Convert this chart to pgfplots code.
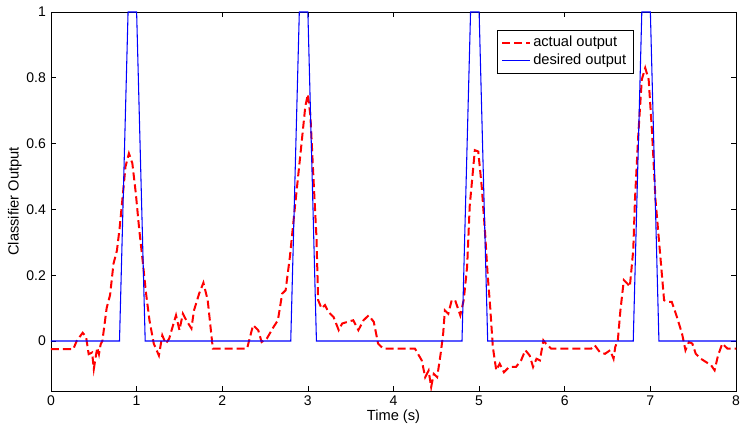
\documentclass[border=0pt]{standalone}
\usepackage{fontspec}
\setmainfont{Liberation Sans}
\usepackage{pgfplots}
\pgfplotsset{compat=1.18}

\begin{document}
\fontsize{11pt}{13pt}\selectfont
\begin{tikzpicture}
% fixed page frame
\path[use as bounding box] (0,0) rectangle (559.5pt,321pt);
\begin{axis}[
  at={(38.25pt,27.75pt)}, anchor=south west,
  scale only axis, width=513.75pt, height=284.25pt,
  xmin=0, xmax=8, ymin=-0.152, ymax=1,
  xtick={0,1,...,8},
  ytick={0,0.2,0.4,0.6,0.8,1},
  yticklabels={0,0.2,0.4,0.6,0.8,1},
  tick align=inside,
  major tick length=4pt,
  every tick/.style={black, line width=0.5pt},
  axis line style={black, line width=0.5pt},
  /pgf/number format/assume math mode=true,
  ticklabel style={font=\fontsize{10.5pt}{12pt}\selectfont},
  label style={font=\fontsize{11pt}{13pt}\selectfont},
  xlabel={Time (s)},
  ylabel={Classifier Output},
  xlabel style={yshift=5pt},
  ylabel style={yshift=-4pt},
  legend cell align=left,
  legend style={at={(0.651,0.953)}, anchor=north west, draw=black,
    line width=0.5pt, font=\fontsize{11pt}{13pt}\selectfont,
    inner xsep=3pt, inner ysep=2.5pt, row sep=0pt},
  legend image code/.code={\draw[#1] (0cm,0cm) -- (0.72cm,0cm);},
]
\addplot[red, line width=1.5pt, dash pattern=on 6pt off 3pt] coordinates {
(0,-0.025) (0.26,-0.025) (0.30,0.0) (0.37,0.025) (0.41,0.012) (0.44,-0.04)
(0.48,-0.035) (0.50,-0.085) (0.54,-0.02) (0.56,-0.04) (0.58,-0.01) (0.60,0.0)
(0.65,0.10) (0.69,0.14) (0.73,0.235) (0.77,0.275) (0.80,0.34) (0.83,0.42)
(0.87,0.53) (0.91,0.57) (0.95,0.54) (0.99,0.45) (1.03,0.34) (1.07,0.245)
(1.11,0.145) (1.15,0.063) (1.20,-0.008) (1.26,-0.044) (1.30,0.017) (1.34,-0.008)
(1.38,0.007) (1.42,0.043) (1.46,0.078) (1.50,0.033) (1.54,0.083) (1.58,0.063)
(1.64,0.038) (1.67,0.093) (1.73,0.144) (1.78,0.177) (1.83,0.124) (1.89,-0.023)
(2.29,-0.023) (2.36,0.048) (2.42,0.033) (2.46,-0.003) (2.52,0.007) (2.60,0.043)
(2.65,0.063) (2.70,0.144) (2.74,0.154) (2.79,0.256) (2.85,0.41) (2.91,0.56)
(2.97,0.713) (3.00,0.75) (3.03,0.683) (3.07,0.47) (3.10,0.317) (3.12,0.124)
(3.16,0.099) (3.20,0.109) (3.24,0.088) (3.30,0.073) (3.36,0.033) (3.40,0.053)
(3.46,0.058) (3.53,0.063) (3.59,0.033) (3.65,0.063) (3.71,0.078) (3.77,0.058)
(3.82,-0.008) (3.88,-0.023) (4.25,-0.023) (4.33,-0.059) (4.37,-0.11) (4.41,-0.09)
(4.44,-0.14) (4.47,-0.10) (4.51,-0.11) (4.55,-0.04) (4.58,0.022) (4.60,0.093)
(4.64,0.083) (4.68,0.124) (4.72,0.124) (4.78,0.078) (4.82,0.124) (4.86,0.226)
(4.89,0.41) (4.95,0.58) (4.99,0.576) (5.03,0.47) (5.07,0.327) (5.10,0.2)
(5.13,0.1) (5.16,-0.018) (5.20,-0.089) (5.24,-0.069) (5.29,-0.095) (5.35,-0.079)
(5.43,-0.079) (5.49,-0.059) (5.54,-0.028) (5.59,-0.044) (5.63,-0.079) (5.67,-0.054)
(5.71,-0.059) (5.75,0.002) (5.78,-0.008) (5.84,-0.023) (6.31,-0.023) (6.35,-0.013)
(6.41,-0.034) (6.47,-0.039) (6.53,-0.028) (6.57,-0.054) (6.59,-0.018) (6.62,0.002)
(6.65,0.093) (6.69,0.185) (6.73,0.175) (6.76,0.165) (6.80,0.276) (6.82,0.429)
(6.86,0.632) (6.90,0.795) (6.94,0.83) (6.98,0.795) (7.02,0.632) (7.06,0.429)
(7.12,0.246) (7.16,0.124) (7.20,0.119) (7.25,0.119) (7.31,0.073) (7.37,0.022)
(7.41,-0.028) (7.45,-0.003) (7.49,-0.008) (7.53,-0.039) (7.59,-0.054) (7.65,-0.064)
(7.71,-0.074) (7.75,-0.089) (7.79,-0.044) (7.84,-0.008) (7.90,-0.023) (8.00,-0.023)
};
\addlegendentry{actual output}
\addplot[blue, line width=0.8pt] coordinates {
(0,0) (0.8,0) (0.9,1) (1.0,1) (1.1,0)
(2.8,0) (2.9,1) (3.0,1) (3.1,0)
(4.8,0) (4.9,1) (5.0,1) (5.1,0)
(6.8,0) (6.9,1) (7.0,1) (7.1,0) (8,0)
};
\addlegendentry{desired output}
\end{axis}
\end{tikzpicture}
\end{document}
